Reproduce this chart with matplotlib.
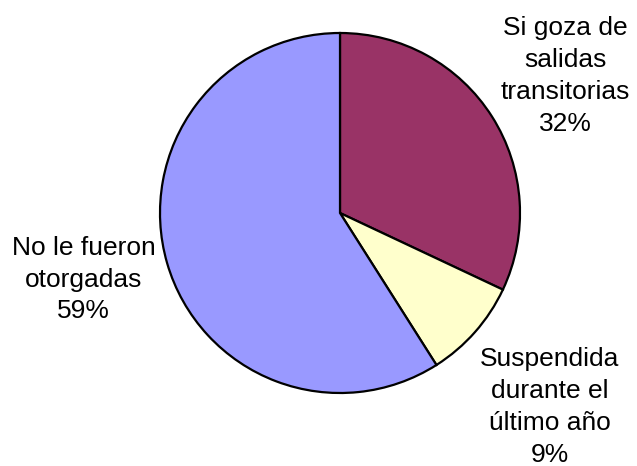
import matplotlib
matplotlib.use("Agg")
import matplotlib.pyplot as plt

categories = ["Si goza de\nsalidas\ntransitorias", "Suspendida\ndurante el\núltimo año", "No le fueron\notorgadas"]
values = [32, 9, 59]
colors = ["#993366", "#FFFFCC", "#9999FF"]

labels = [f"{c}\n{v}%" for c, v in zip(categories, values)]

W, H, DPI = 637, 466, 100
fig = plt.figure(figsize=(W / DPI, H / DPI), dpi=DPI)
ax = fig.add_axes([0, 0, 1, 1])
R = 180.0
cx, cy = 340.0, H - 213.0

wedges, texts = ax.pie(values, labels=labels, colors=colors, startangle=90,
                       counterclock=False, labeldistance=1.5,
                       wedgeprops=dict(edgecolor="black", linewidth=1.6),
                       textprops=dict(fontsize=19, family=["Liberation Sans", "DejaVu Sans"]),
                       normalize=True)

# label centres in pixel layout (x from left, y from top)
label_px = [(565.5, 76.0), (549.5, 407.0), (83.5, 279.5)]
for t, (px, py) in zip(texts, label_px):
    t.set_ha("center")
    t.set_va("center")
    t.set_multialignment("center")
    t.set_linespacing(1.41)
    t.set_position(((px - cx) / R, ((H - py) - cy) / R))

ax.set_xlim(-cx / R, (W - cx) / R)
ax.set_ylim(-cy / R, (H - cy) / R)
ax.set_aspect("auto")
ax.axis("off")

fig.savefig("out.png", dpi=DPI)
